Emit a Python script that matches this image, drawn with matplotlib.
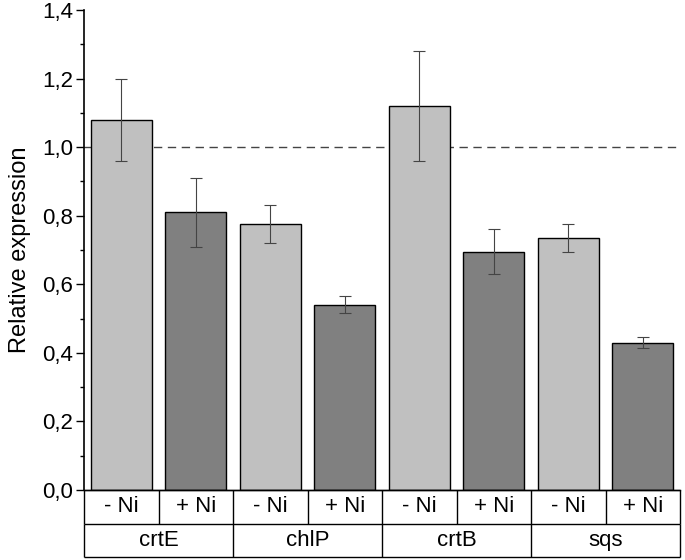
import numpy as np
import matplotlib.pyplot as plt
from matplotlib.ticker import MultipleLocator, FuncFormatter

plt.rcParams['font.family'] = ['Liberation Sans', 'DejaVu Sans']

genes = ['crtE', 'chlP', 'crtB', 'sqs']
conditions = ['- Ni', '+ Ni']
values = [1.08, 0.81, 0.775, 0.54, 1.12, 0.695, 0.735, 0.43]
errors = [0.12, 0.10, 0.055, 0.025, 0.16, 0.065, 0.04, 0.017]
colors = ['#c0c0c0', '#808080'] * 4

fig = plt.figure(figsize=(6.85, 5.6), dpi=100)
left, right = 84 / 685, 680 / 685
ax = fig.add_axes([left, 1 - 490 / 560, right - left, 480 / 560])

x = np.arange(len(values))
ax.axhline(1.0, color='#444444', lw=1, ls=(0, (6, 4)), zorder=0)
ax.bar(x, values, width=0.82, color=colors, edgecolor='black', linewidth=1, zorder=2)
ax.errorbar(x, values, yerr=errors, fmt='none', ecolor='#444444',
            elinewidth=0.8, capsize=4, capthick=0.8, zorder=3)

ax.set_xlim(-0.5, len(values) - 0.5)
ax.set_ylim(0, 1.4)
ax.yaxis.set_major_locator(MultipleLocator(0.2))
ax.yaxis.set_minor_locator(MultipleLocator(0.1))
ax.yaxis.set_major_formatter(FuncFormatter(lambda v, p: f'{v:.1f}'.replace('.', ',')))
ax.tick_params(axis='y', which='major', length=6, width=1, labelsize=16, direction='out', pad=2)
ax.tick_params(axis='y', which='minor', length=3, width=1)
ax.set_xticks([])
for s in ['top', 'right']:
    ax.spines[s].set_visible(False)
ax.spines['left'].set_linewidth(1.2)
ax.spines['bottom'].set_linewidth(1)
ax.set_ylabel('Relative expression', fontsize=17, labelpad=8)

# label table below the bars
tb = fig.add_axes([left, 3 / 560, right - left, 67 / 560])
tb.set_xlim(-0.5, len(values) - 0.5)
tb.set_ylim(0, 2)
tb.axis('off')
tb.hlines([0, 1, 2], -0.5, len(values) - 0.5, color='black', lw=1, clip_on=False)
tb.vlines(np.arange(len(values) + 1) - 0.5, 1, 2, color='black', lw=1, clip_on=False)
tb.vlines(np.arange(0, len(values) + 1, 2) - 0.5, 0, 1, color='black', lw=1, clip_on=False)
for i in range(len(values)):
    tb.text(i, 1.5, conditions[i % 2], ha='center', va='center', fontsize=16)
for j, g in enumerate(genes):
    tb.text(2 * j + 0.5, 0.5, g, ha='center', va='center', fontsize=16)

fig.savefig('out.png', dpi=100)
